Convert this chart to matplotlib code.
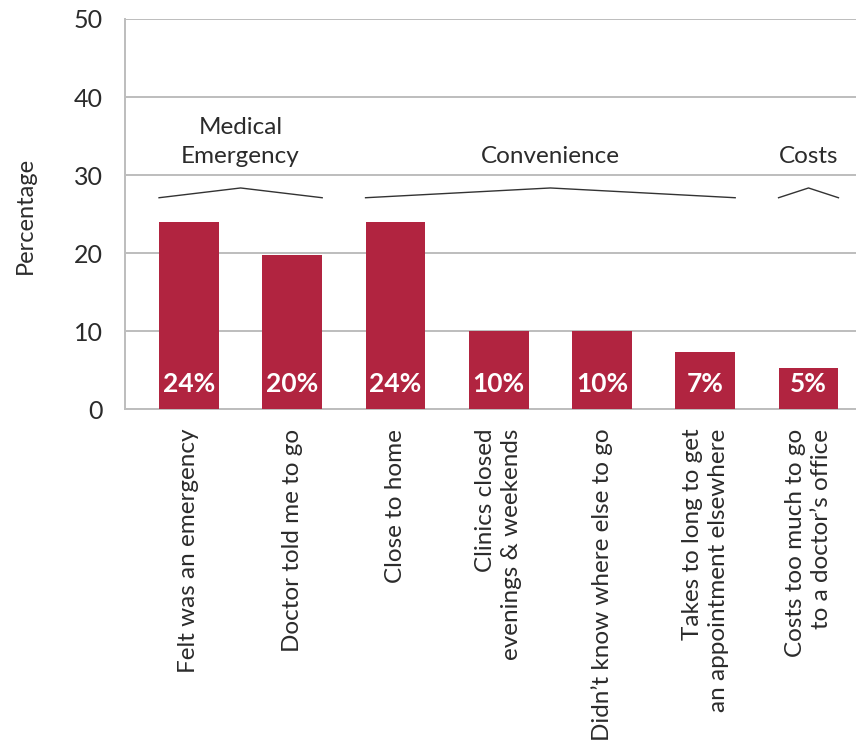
import numpy as np
import matplotlib
matplotlib.use("Agg")
import matplotlib.pyplot as plt

plt.rcParams['font.family'] = ['Lato', 'DejaVu Sans']

reasons = ["Felt was an emergency", "Doctor told me to go", "Close to home",
           "Clinics closed\nevenings & weekends", "Didn\u2019t know where else to go",
           "Takes to long to get\nan appointment elsewhere",
           "Costs too much to go\nto a doctor\u2019s office"]
percent = [24.0, 19.8, 24.0, 10.0, 10.0, 7.4, 5.3]

# groups: label, first bar index, last bar index
groups = [("Medical\nEmergency", 0, 1), ("Convenience", 2, 5), ("Costs", 6, 6)]

bar_color = "#b12440"
grid_color = "#bdbdbd"
text_color = "#2b2b2b"
width = 0.58

fig = plt.figure(figsize=(8.56, 7.44), dpi=100)
ax = fig.add_axes([0.146, 0.4499, 0.854, 0.5246])

x = np.arange(len(reasons))
ax.bar(x, percent, width=width, color=bar_color, zorder=3)

for xi, v in zip(x, percent):
    ax.text(xi, 3.3, "%d%%" % round(v), color="white", fontsize=19,
            fontweight="bold", ha="center", va="center", zorder=4)

# bracket over each group with its title above
for label, i0, i1 in groups:
    left = i0 - width / 2
    right = i1 + width / 2
    mid = (left + right) / 2
    ax.plot([left, mid, right], [27.1, 28.35, 27.1], color="#333333",
            lw=1.0, zorder=3, clip_on=False)
    ax.text(mid, 31.1, label, ha="center", va="bottom", fontsize=17.5,
            color=text_color, linespacing=1.45)

ax.set_xlim(-0.62, 6.46)
ax.set_ylim(0, 50)
ax.set_yticks(np.arange(0, 51, 10))
ax.yaxis.grid(True, color=grid_color, lw=1.4, zorder=0)
ax.set_axisbelow(True)

ax.set_xticks(x)
ax.set_xticklabels(reasons, rotation=90, ha="center", va="top",
                   multialignment="right", fontsize=17.5, color=text_color,
                   linespacing=1.3)
ax.tick_params(axis="both", length=0)
ax.tick_params(axis="y", pad=16, labelsize=18, labelcolor=text_color)
ax.tick_params(axis="x", pad=14)

for side in ["top", "right"]:
    ax.spines[side].set_visible(False)
for side in ["left", "bottom"]:
    ax.spines[side].set_color(grid_color)
    ax.spines[side].set_linewidth(1.4)

fig.text(25 / 856, 1 - 215 / 744, "Percentage", rotation=90, ha="center",
         va="center", fontsize=17, color=text_color)

fig.savefig("out.png", dpi=100)
